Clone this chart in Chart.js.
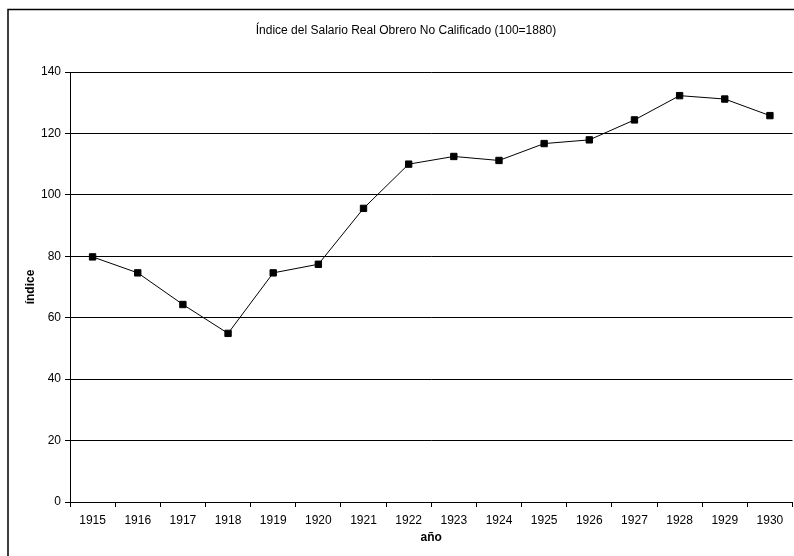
<!DOCTYPE html>
<html>
<head>
<meta charset="utf-8">
<script src="https://cdn.jsdelivr.net/npm/chart.js@4/dist/chart.umd.min.js"></script>
<style>
  html, body { margin: 0; padding: 0; background: #fff; overflow: hidden; }
  #wrap { width: 794px; height: 556px; overflow: hidden; position: relative; }
  canvas { display: block; }
</style>
</head>
<body>
<div id="wrap"><canvas id="c" width="798" height="556"></canvas></div>
<script>
const years = ['1915','1916','1917','1918','1919','1920','1921','1922','1923','1924','1925','1926','1927','1928','1929','1930'];
const salarioReal = [79.8, 74.6, 64.3, 54.9, 74.6, 77.4, 95.6, 110.0, 112.5, 111.2, 116.7, 117.9, 124.4, 132.3, 131.2, 125.8];
const yTicks = [0, 20, 40, 60, 80, 100, 120, 140];
const chartTitle = 'Índice del Salario Real Obrero No Calificado (100=1880)';
const xTitle = 'año';
const yTitle = 'índice';

const FONT = 'Liberation Sans, Arial, sans-serif';

const framePlugin = {
  id: 'frame',
  afterDraw(chart) {
    const ctx = chart.ctx;
    ctx.save();
    ctx.strokeStyle = '#000';
    ctx.lineWidth = 1.5;
    ctx.strokeRect(8, 9.5, 900, 700);
    ctx.restore();
  }
};

new Chart(document.getElementById('c'), {
  type: 'line',
  data: {
    labels: years,
    datasets: [{
      data: salarioReal,
      borderColor: '#000',
      borderWidth: 1,
      backgroundColor: '#000',
      pointStyle: 'rect',
      pointRadius: 4.5,
      pointBorderWidth: 1,
      pointBorderColor: '#000',
      pointBackgroundColor: '#000',
      tension: 0,
      fill: false
    }]
  },
  plugins: [framePlugin],
  options: {
    responsive: false,
    animation: false,
    devicePixelRatio: 1,
    layout: { padding: { top: 0, left: 14, right: 0, bottom: 0 } },
    plugins: {
      legend: { display: false },
      tooltip: { enabled: false },
      title: {
        display: true,
        text: chartTitle,
        color: '#000',
        font: { family: FONT, size: 12, weight: 'normal' },
        padding: { top: 23, bottom: 34.6 }
      }
    },
    scales: {
      x: {
        type: 'category',
        offset: true,
        grid: {
          offset: true,
          drawOnChartArea: false,
          drawTicks: true,
          tickLength: 5,
          tickColor: '#000',
          color: '#000'
        },
        border: { color: '#000', width: 1 },
        ticks: {
          color: '#000',
          font: { family: FONT, size: 12 },
          padding: 6,
          maxRotation: 0,
          autoSkip: false
        },
        title: {
          display: true,
          text: xTitle,
          color: '#000',
          font: { family: FONT, size: 12, weight: 'bold' },
          padding: { top: 0, bottom: 11 }
        },
        afterFit(scale) { scale.height = 54; }
      },
      y: {
        min: 0,
        max: 140,
        afterBuildTicks(scale) { scale.ticks = yTicks.map(v => ({ value: v })); },
        grid: {
          color: '#000',
          lineWidth: 1,
          drawTicks: true,
          tickLength: 5,
          tickColor: '#000'
        },
        border: { color: '#000', width: 1 },
        ticks: {
          color: '#000',
          font: { family: FONT, size: 12 },
          padding: 4
        },
        title: {
          display: true,
          text: yTitle,
          color: '#000',
          font: { family: FONT, size: 12, weight: 'bold' },
          padding: { top: 9, bottom: 9 }
        },
        afterFit(scale) { scale.width = 56; }
      }
    }
  }
});
</script>
</body>
</html>
